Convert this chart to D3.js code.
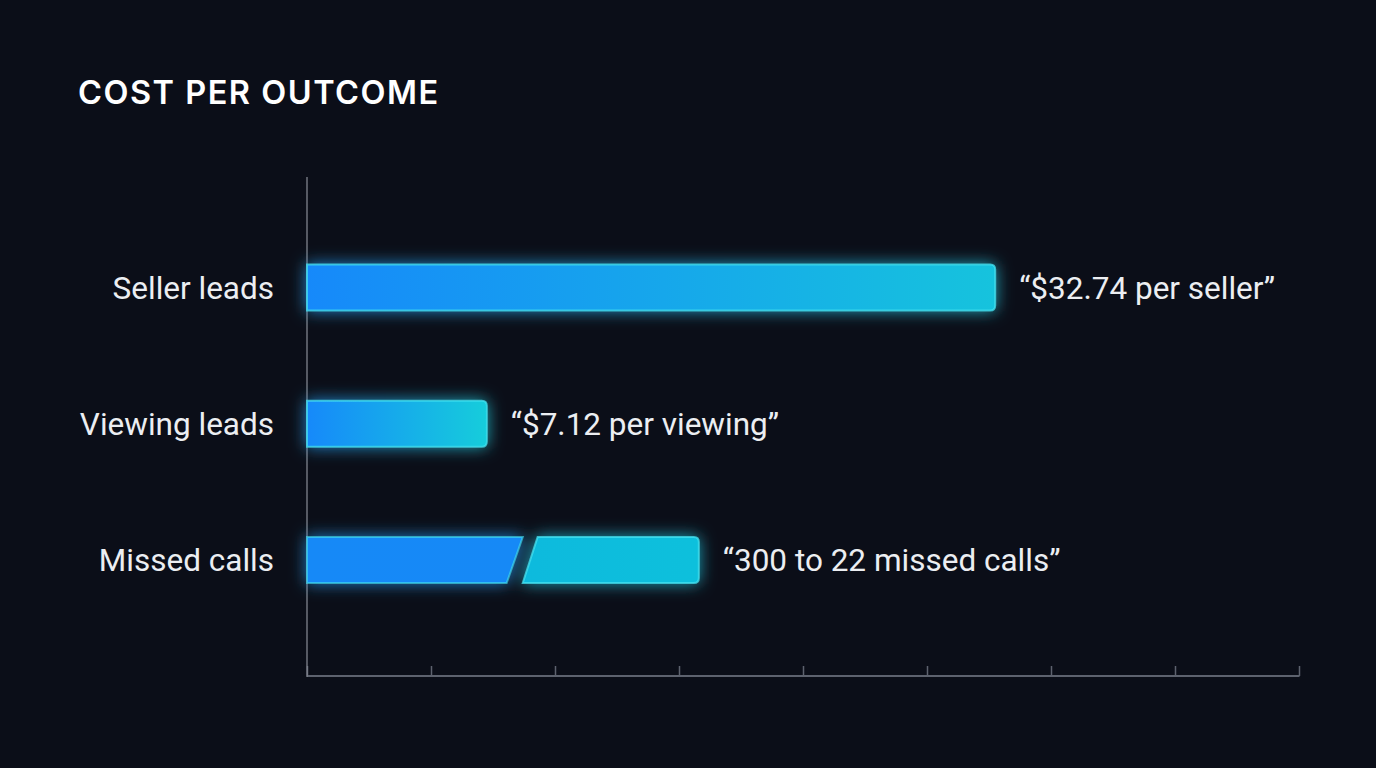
<!DOCTYPE html>
<html>
<head>
<meta charset="utf-8">
<script src="https://cdn.jsdelivr.net/npm/d3@7"></script>
<style>
  html, body { margin: 0; padding: 0; background: #0b0e18; }
  svg { display: block; }
</style>
</head>
<body>
<script>
// data (bar lengths in axis units)
let categories = ["Seller leads", "Viewing leads", "Missed calls"];
let barValues = [5.55, 1.45, 3.16];
let valueLabels = ["“$32.74 per seller”", "“$7.12 per viewing”", "“300 to 22 missed calls”"];
let tickValues = [0, 1, 2, 3, 4, 5, 6, 7, 8];
// broken bar for missed calls: first piece ends / second piece starts (axis units)
let breakStart = [1.74, 1.61];   // top, bottom of slanted cut
let breakEnd = [1.86, 1.74];

function main() {
    let svg = d3.select("body").append("svg")
        .attr("width", 1376)
        .attr("height", 768);

    svg.append("rect")
        .attr("width", 1376).attr("height", 768)
        .attr("fill", "#0b0e18");

    let defs = svg.append("defs");

    let glow = defs.append("filter")
        .attr("id", "glow")
        .attr("x", "-20%").attr("y", "-80%")
        .attr("width", "140%").attr("height", "260%");
    glow.append("feGaussianBlur")
        .attr("in", "SourceGraphic")
        .attr("stdDeviation", 8)
        .attr("result", "blur");
    glow.append("feColorMatrix")
        .attr("in", "blur")
        .attr("type", "matrix")
        .attr("values", "1 0 0 0 0  0 1 0 0 0  0 0 1 0 0  0 0 0 0.8 0")
        .attr("result", "soft");
    let merge = glow.append("feMerge");
    merge.append("feMergeNode").attr("in", "soft");
    merge.append("feMergeNode").attr("in", "SourceGraphic");

    let grads = [
        ["g0", "#1589fa", "#12c3dd"],
        ["g1", "#1589fa", "#12cddb"],
        ["g2", "#1289f7", "#1389f6"],
        ["g3", "#0fbadd", "#0fc0dc"]
    ];
    grads.forEach(g => {
        let lg = defs.append("linearGradient").attr("id", g[0])
            .attr("x1", "0%").attr("x2", "100%").attr("y1", "0%").attr("y2", "0%");
        lg.append("stop").attr("offset", "0%").attr("stop-color", g[1]);
        lg.append("stop").attr("offset", "100%").attr("stop-color", g[2]);
    });

    svg.append("text")
        .attr("x", 78)
        .attr("y", 104)
        .text("COST PER OUTCOME")
        .attr("fill", "#ffffff")
        .style("font-family", "Inter, 'Open Sans', sans-serif")
        .style("font-weight", 600)
        .style("font-size", "32.5px")
        .style("letter-spacing", "1.5px");

    let xScale = d3.scaleLinear().domain([0, 8]).range([307, 1299]);
    let yScale = d3.scalePoint().domain(categories).range([287.5, 560]);

    // axes
    let xAxis = d3.axisTop(xScale).tickValues(tickValues).tickSize(10).tickFormat("");
    let gx = svg.append("g")
        .attr("transform", "translate(0,676)")
        .call(xAxis);
    gx.select(".domain").remove();
    gx.selectAll("line").attr("stroke", "#5d626e").attr("stroke-width", 1.5);
    svg.append("line")
        .attr("x1", 307).attr("x2", 1299.5)
        .attr("y1", 676).attr("y2", 676)
        .attr("stroke", "#5d626e").attr("stroke-width", 2);
    svg.append("line")
        .attr("x1", 307).attr("x2", 307)
        .attr("y1", 177).attr("y2", 677)
        .attr("stroke", "#8a8e98").attr("stroke-width", 1.2);

    let bh = 46;
    let r = 5;
    let stroke = "#46e2f0";

    // rounded right end path
    function barPath(x0, x1, y0, y1) {
        return `M${x0},${y0} L${x1 - r},${y0} Q${x1},${y0} ${x1},${y0 + r} L${x1},${y1 - r} Q${x1},${y1} ${x1 - r},${y1} L${x0},${y1} Z`;
    }

    categories.forEach((c, i) => {
        let y0 = yScale(c) - bh / 2, y1 = y0 + bh;
        let x0 = xScale(0), x1 = xScale(barValues[i]);
        let g = svg.append("g").attr("filter", "url(#glow)");
        if (i < 2) {
            g.append("path")
                .attr("d", barPath(x0, x1, y0, y1))
                .attr("fill", `url(#g${i})`)
                .attr("stroke", stroke)
                .attr("stroke-opacity", 0.75)
                .attr("stroke-width", 2);
        } else {
            let a = xScale(breakStart[0]), b = xScale(breakStart[1]);
            g.append("path")
                .attr("d", `M${x0},${y0} L${a},${y0} L${b},${y1} L${x0},${y1} Z`)
                .attr("fill", "url(#g2)")
                .attr("stroke", stroke)
                .attr("stroke-opacity", 0.6)
                .attr("stroke-width", 2);
            let c0 = xScale(breakEnd[0]), d0 = xScale(breakEnd[1]);
            g.append("path")
                .attr("d", `M${c0},${y0} L${x1 - r},${y0} Q${x1},${y0} ${x1},${y0 + r} L${x1},${y1 - r} Q${x1},${y1} ${x1 - r},${y1} L${d0},${y1} Z`)
                .attr("fill", "url(#g3)")
                .attr("stroke", stroke)
                .attr("stroke-opacity", 0.75)
                .attr("stroke-width", 2);
        }
    });

    // category labels
    svg.selectAll(".cat")
        .data(categories)
        .enter()
        .append("text")
        .attr("class", "cat")
        .attr("x", 274)
        .attr("y", d => yScale(d))
        .attr("dy", "0.35em")
        .attr("text-anchor", "end")
        .attr("fill", "#eceef2")
        .style("font-family", "Roboto, sans-serif")
        .style("font-size", "31.5px")
        .text(d => d);

    // value labels
    svg.selectAll(".val")
        .data(valueLabels)
        .enter()
        .append("text")
        .attr("class", "val")
        .attr("x", (d, i) => xScale(barValues[i]) + 24)
        .attr("y", (d, i) => yScale(categories[i]))
        .attr("dy", "0.35em")
        .attr("fill", "#eceef2")
        .style("font-family", "Roboto, sans-serif")
        .style("font-size", "31.5px")
        .text(d => d);
}

main()
</script>
</body>
</html>
